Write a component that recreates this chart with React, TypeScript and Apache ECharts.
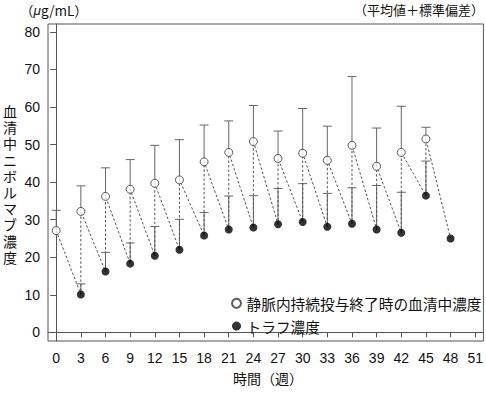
import React, { useEffect, useRef } from "react";
import * as echarts from "echarts";

const weeksOpen = [0, 3, 6, 9, 12, 15, 18, 21, 24, 27, 30, 33, 36, 39, 42, 45];
const openMean = [27.1, 32.2, 36.2, 38.1, 39.7, 40.6, 45.4, 47.9, 50.8, 46.3, 47.7, 45.8, 49.8, 44.2, 47.9, 51.5];
const openSD = [5.4, 6.8, 7.6, 7.9, 10.1, 10.7, 9.8, 8.4, 9.6, 7.3, 11.9, 9.1, 18.3, 10.2, 12.3, 3.1];

const weeksTrough = [3, 6, 9, 12, 15, 18, 21, 24, 27, 30, 33, 36, 39, 42, 45, 48];
const troughMean = [10.1, 16.2, 18.3, 20.4, 22.0, 25.8, 27.4, 27.9, 28.8, 29.4, 28.1, 28.9, 27.4, 26.5, 36.4, 25.0];
const troughSD = [2.8, 5.1, 5.5, 7.8, 8.1, 6.1, 8.9, 8.5, 9.5, 10.2, 8.9, 9.6, 11.7, 10.8, 9.2, null];

const xTicks = [0, 3, 6, 9, 12, 15, 18, 21, 24, 27, 30, 33, 36, 39, 42, 45, 48, 51];
const yTicks = [0, 10, 20, 30, 40, 50, 60, 70, 80];

const nameOpen = "静脈内持続投与終了時の血清中濃度";
const nameTrough = "トラフ濃度";
const yTitle = "血清中ニボルマブ濃度";

const NUM_FONT = "'Liberation Sans', Arial, sans-serif";
const JP_FONT = "'Noto Sans CJK JP', 'Liberation Sans', sans-serif";

export default function App() {
  const ref = useRef<HTMLDivElement>(null);
  useEffect(() => {
    if (!ref.current) return;
    const chart = echarts.init(ref.current, undefined, { renderer: "svg" });

    // sawtooth dashed connection: open(t) -> trough(t+3) -> open(t+3) ...
    const path: number[][] = [];
    weeksOpen.forEach((w, i) => {
      const ti = weeksTrough.indexOf(w);
      if (ti >= 0) path.push([w, troughMean[ti]]);
      path.push([w, openMean[i]]);
    });
    path.push([weeksTrough[weeksTrough.length - 1], troughMean[troughMean.length - 1]]);

    const errData: number[][] = [];
    weeksOpen.forEach((w, i) => errData.push([w, openMean[i], openMean[i] + openSD[i]]));
    weeksTrough.forEach((w, i) => {
      const sd = troughSD[i];
      if (sd != null) errData.push([w, troughMean[i], troughMean[i] + sd]);
    });

    const yTitleTexts = yTitle.split("").map((ch, i) => ({
      type: "text",
      left: 3,
      top: 104 + i * 16.2,
      style: { text: ch, fontSize: 14, fill: "#111", fontFamily: JP_FONT },
    }));

    const option: any = {
      animation: false,
      backgroundColor: "#fff",
      grid: { left: 48, right: 1, top: 24, bottom: 52, show: true, borderColor: "#555", borderWidth: 1, backgroundColor: "transparent" },
      xAxis: {
        type: "value",
        min: -1,
        max: 52,
        axisLine: { show: true, lineStyle: { color: "#555", width: 1 } },
        axisTick: { show: true, customValues: xTicks, length: 5, lineStyle: { color: "#555" } },
        axisLabel: { customValues: xTicks, color: "#111", fontSize: 14, fontFamily: NUM_FONT, margin: 10 },
        splitLine: { show: false },
      },
      yAxis: {
        type: "value",
        min: -2.3,
        max: 82.1,
        axisLine: { show: true, lineStyle: { color: "#555", width: 1 } },
        axisTick: { show: true, customValues: yTicks, length: 6, lineStyle: { color: "#555" } },
        axisLabel: { customValues: yTicks, color: "#111", fontSize: 14, fontFamily: NUM_FONT, margin: 8 },
        splitLine: { show: false },
      },
      legend: {
        orient: "vertical",
        left: 226,
        top: 291,
        itemWidth: 10,
        itemHeight: 9,
        itemGap: 8,
        data: [nameOpen, nameTrough],
        textStyle: { fontSize: 14.7, color: "#111", fontFamily: JP_FONT },
      },
      series: [
        {
          type: "custom",
          name: "err",
          z: 1,
          renderItem: (params: any, api: any) => {
            const x = api.value(0);
            const p0 = api.coord([x, api.value(1)]);
            const p1 = api.coord([x, api.value(2)]);
            const style = { stroke: "#666", lineWidth: 1 };
            return {
              type: "group",
              children: [
                { type: "line", shape: { x1: p0[0], y1: p0[1], x2: p1[0], y2: p1[1] }, style },
                { type: "line", shape: { x1: p1[0] - 4.5, y1: p1[1], x2: p1[0] + 4.5, y2: p1[1] }, style },
              ],
            };
          },
          encode: { x: 0, y: [1, 2] },
          data: errData,
        },
        {
          type: "line",
          name: "conn",
          z: 2,
          data: path,
          showSymbol: false,
          symbol: "none",
          lineStyle: { color: "#555", width: 1, type: [2.5, 2] },
        },
        {
          type: "scatter",
          name: nameOpen,
          z: 3,
          symbol: "circle",
          symbolSize: 8,
          itemStyle: { color: "#fff", borderColor: "#333", borderWidth: 1 },
          data: weeksOpen.map((w, i) => [w, openMean[i]]),
        },
        {
          type: "scatter",
          name: nameTrough,
          z: 3,
          symbol: "circle",
          symbolSize: 8,
          itemStyle: { color: "#000" },
          data: weeksTrough.map((w, i) => [w, troughMean[i]]),
        },
      ],
      graphic: [
        {
          type: "text",
          left: 20,
          top: 3,
          style: {
            text: "（{i|μ}g/mL）",
            fontSize: 13.5,
            fill: "#111",
            fontFamily: JP_FONT,
            rich: { i: { fontSize: 13.5, fontStyle: "italic", fontFamily: NUM_FONT, fill: "#111" } },
          },
        },
        {
          type: "text",
          right: 2,
          top: 3,
          style: { text: "（平均値＋標準偏差）", fontSize: 13, fill: "#111", fontFamily: JP_FONT },
        },
        ...yTitleTexts,
        {
          type: "text",
          left: 233,
          top: 371,
          style: { text: "時間（週）", fontSize: 14, fill: "#111", fontFamily: JP_FONT },
        },
      ],
    };
    chart.setOption(option);
    return () => chart.dispose();
  }, []);
  return <div ref={ref} style={{ position: "absolute", left: 0, top: 0, width: 486, height: 393 }} />;
}
